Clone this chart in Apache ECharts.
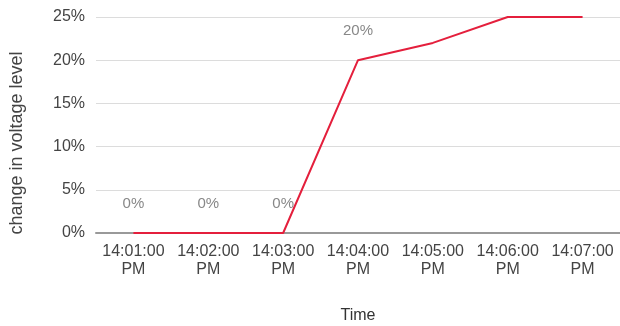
<!DOCTYPE html>
<html>
<head>
<meta charset="utf-8">
<script src="https://cdn.jsdelivr.net/npm/echarts@6/dist/echarts.min.js"></script>
<style>
  html, body { margin: 0; padding: 0; background: #fff; }
  #chart { width: 620px; height: 326px; }
</style>
</head>
<body>
<div id="chart"></div>
<script>
// Voltage level change over time
const times = ['14:01:00 PM', '14:02:00 PM', '14:03:00 PM', '14:04:00 PM', '14:05:00 PM', '14:06:00 PM', '14:07:00 PM'];
const changePct = [0, 0, 0, 20, 22, 25, 25];
const labelShown = [true, true, true, true, false, false, false];
const yTicks = { min: 0, max: 25, interval: 5 };

const FONT = 'Arial, "Liberation Sans", sans-serif';

const chart = echarts.init(document.getElementById('chart'));
chart.setOption({
  animation: false,
  grid: { left: 96, right: 0, top: 17, bottom: 93, containLabel: false, outerBoundsMode: 'none' },
  xAxis: {
    type: 'category',
    data: times,
    name: 'Time',
    nameLocation: 'middle',
    nameGap: 75,
    nameTextStyle: { color: '#333', fontSize: 16, fontFamily: FONT },
    axisLine: { lineStyle: { color: '#999', width: 2 } },
    axisTick: { show: false },
    axisLabel: {
      interval: 0,
      color: '#444', fontSize: 16, lineHeight: 18, margin: 10,
      fontFamily: FONT,
      formatter: v => v.replace(' ', '\n')
    }
  },
  yAxis: {
    type: 'value',
    min: yTicks.min, max: yTicks.max, interval: yTicks.interval,
    name: 'change in voltage level',
    nameLocation: 'middle',
    nameGap: 70,
    nameTextStyle: { color: '#444', fontSize: 18, fontFamily: FONT, padding: [0, 36, 0, 0] },
    axisLine: { show: false },
    axisTick: { show: false },
    splitLine: { lineStyle: { color: '#dcdcdc', width: 1 } },
    axisLabel: {
      color: '#444', fontSize: 16, margin: 11,
      fontFamily: FONT,
      formatter: v => v + '%'
    }
  },
  series: [{
    type: 'line',
    data: changePct.map((v, i) => ({
      value: v,
      label: { show: labelShown[i] }
    })),
    symbol: 'circle',
    symbolSize: 0,
    showSymbol: true,
    lineStyle: { color: '#e41f3c', width: 2 },
    itemStyle: { color: '#e41f3c' },
    label: {
      position: 'top',
      distance: 22,
      color: '#888',
      fontSize: 15,
      fontFamily: FONT,
      formatter: p => p.value + '%'
    }
  }]
});
</script>
</body>
</html>
